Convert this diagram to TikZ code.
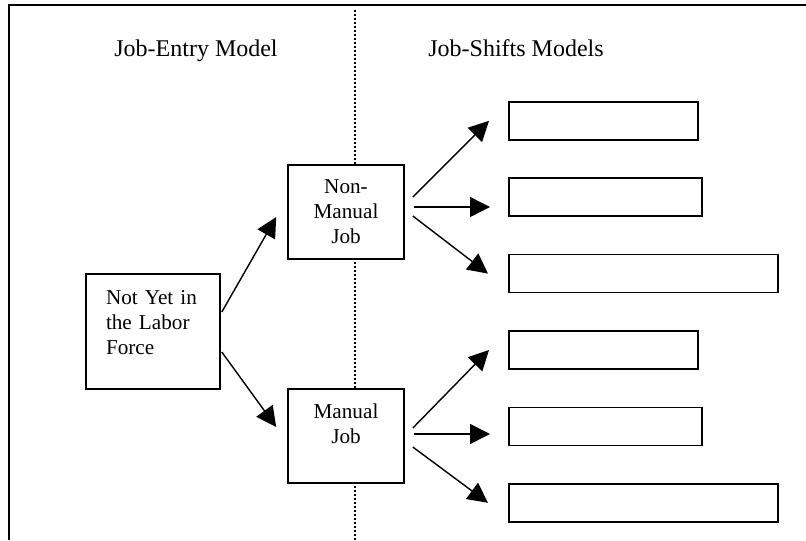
\documentclass[tikz,border=0pt]{standalone}
\usepackage{fontspec}
\setmainfont{Liberation Serif}
\usetikzlibrary{arrows.meta,positioning}

\begin{document}
\begin{tikzpicture}[
    x=0.5pt, y=-0.5pt,
    jobbox/.style={rectangle, draw, line width=0.8pt, fill=white, inner sep=0pt, minimum width=58pt, minimum height=47pt, align=center, font=\fontsize{10.6}{12.5}\selectfont},
    shiftbox/.style={rectangle, draw, line width=0.8pt, fill=white, inner sep=0pt, minimum height=19pt, anchor=north west},
    head/.style={anchor=base, font=\fontsize{12}{14}\selectfont},
    arr/.style={-{Triangle[length=10pt,width=10pt]}, line width=0.7pt},
    node distance=18.4pt
]
    \useasboundingbox (0,0) rectangle (806,540);
    \draw[line width=0.9pt] (8.7,540) -- (8.7,5) -- (806,5);
    \draw[line width=0.8pt, dash pattern=on 0.8pt off 1.2pt] (354.7,10) -- (354.7,540);

    \node[head] (entry) at (196,57) {Job-Entry Model};
    \node[head] (shifts) at (516,57) {Job-Shifts Models};

    \node[jobbox, minimum width=67pt, minimum height=57.5pt, text width=47pt, inner xsep=10pt, align=left] (nylf) at (153,331.5) {Not Yet in\\the Labor\\Force\\[-3pt]~};
    \node[jobbox] (nmj) at (346,212) {Non-\\Manual\\Job};
    \node[jobbox] (mj) at (346,436) {Manual\\Job\\~};

    \node[shiftbox, minimum width=94.5pt] (s1) at (508,101) {};
    \node[below=of s1.south west, shiftbox, minimum width=96.5pt] (s2) {};
    \node[below=of s2.south west, shiftbox, minimum width=134.5pt] (s3) {};
    \node[below=of s3.south west, shiftbox, minimum width=94.5pt] (s4) {};
    \node[below=of s4.south west, shiftbox, minimum width=96.5pt] (s5) {};
    \node[below=of s5.south west, shiftbox, minimum width=134.5pt] (s6) {};

    \draw[arr] ([xshift=0.5pt,yshift=9.75pt]nylf.east) -- ([xshift=-5.5pt,yshift=-2.5pt]nmj.west);
    \draw[arr] ([xshift=0.5pt,yshift=-10.25pt]nylf.east) -- ([xshift=-5.5pt,yshift=4.5pt]mj.west);

    \draw[arr] ([xshift=4pt,yshift=7.5pt]nmj.east) -- ([xshift=-9.5pt]s1.west);
    \coordinate (nmjmid) at ([xshift=4.5pt,yshift=2.5pt]nmj.east);
    \draw[arr, shorten >=9pt] (nmjmid) -- (nmjmid -| s2.west);
    \draw[arr] ([xshift=4pt,yshift=-2pt]nmj.east) -- ([xshift=-10pt]s3.west);

    \draw[arr] ([xshift=4pt,yshift=4pt]mj.east) -- ([xshift=-9.5pt]s4.west);
    \coordinate (mjmid) at ([xshift=4.5pt,yshift=1pt]mj.east);
    \draw[arr, shorten >=9pt] (mjmid) -- (mjmid -| s5.west);
    \draw[arr] ([xshift=4pt,yshift=-5.5pt]mj.east) -- ([xshift=-10pt]s6.west);
\end{tikzpicture}
\end{document}
